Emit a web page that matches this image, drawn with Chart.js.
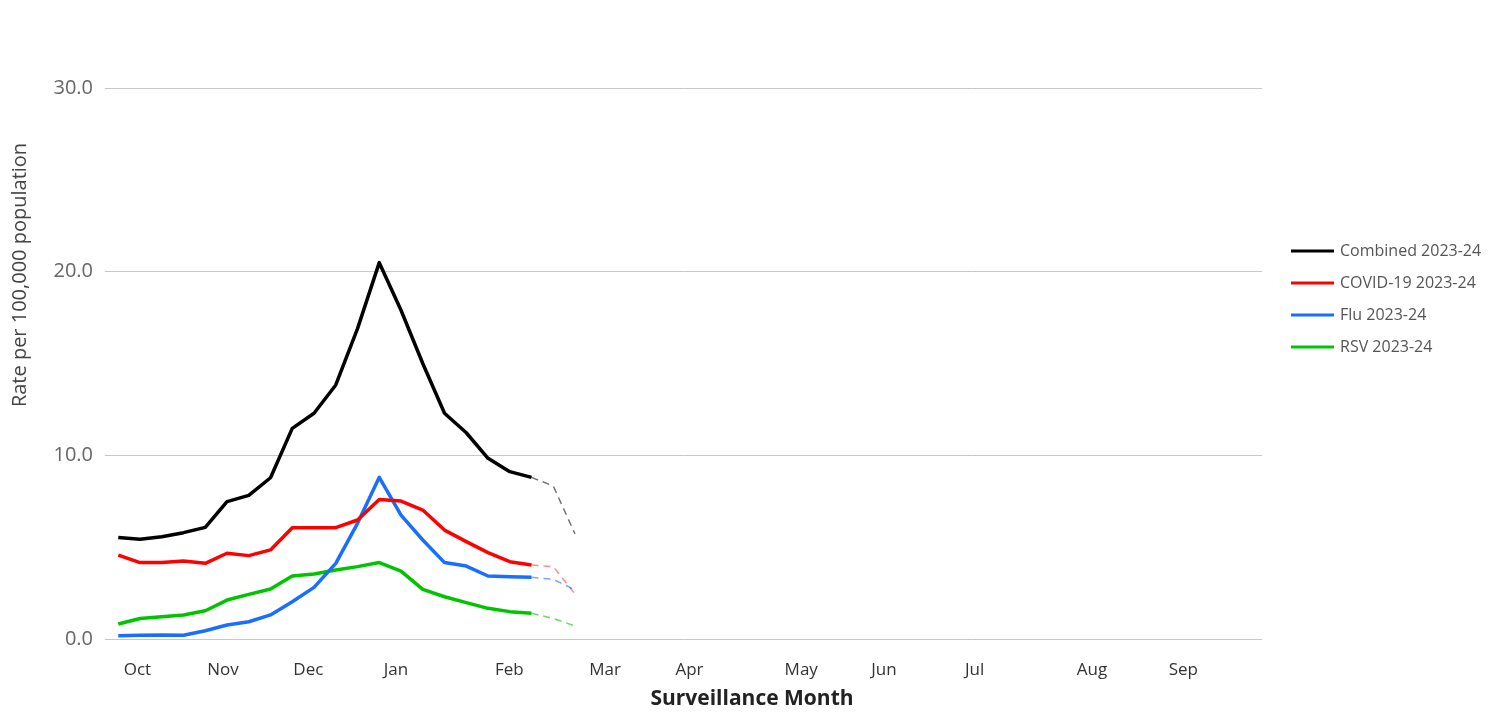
<!DOCTYPE html>
<html>
<head>
<meta charset="utf-8">
<script src="https://cdn.jsdelivr.net/npm/chart.js@4.4.1/dist/chart.umd.min.js"></script>
<style>
  html, body { margin: 0; padding: 0; background: #fff; }
  #wrap { width: 1499px; height: 713px; position: relative; }
</style>
</head>
<body>
<div id="wrap"><canvas id="chart"></canvas></div>
<script>
// Month labels and the (week) position where each one sits on the axis
const monthLabels = ['Oct', 'Nov', 'Dec', 'Jan', 'Feb', 'Mar', 'Apr', 'May', 'Jun', 'Jul', 'Aug', 'Sep'];
const monthTickWeeks = [0.88, 4.81, 8.74, 12.77, 17.98, 22.38, 26.26, 31.4, 35.2, 39.37, 44.77, 48.97];

// Weekly rates per 100,000 (reported weeks)
const combined = [5.52, 5.43, 5.57, 5.79, 6.08, 7.48, 7.82, 8.78, 11.47, 12.29, 13.83, 16.9, 20.49, 17.9, 15.0, 12.29, 11.23, 9.84, 9.11, 8.80];
const covid    = [4.57, 4.16, 4.16, 4.25, 4.12, 4.67, 4.54, 4.85, 6.06, 6.06, 6.06, 6.48, 7.60, 7.51, 7.02, 5.93, 5.30, 4.70, 4.21, 4.03];
const flu      = [0.18, 0.20, 0.22, 0.20, 0.45, 0.76, 0.94, 1.31, 2.03, 2.81, 4.12, 6.30, 8.80, 6.75, 5.39, 4.16, 3.97, 3.43, 3.39, 3.36];
const rsv      = [0.82, 1.12, 1.21, 1.31, 1.54, 2.12, 2.43, 2.72, 3.43, 3.54, 3.76, 3.94, 4.16, 3.70, 2.70, 2.30, 1.98, 1.67, 1.49, 1.40];

// Preliminary (dashed) weeks, starting at the last reported week
const prelimStart = 19;
const combinedPrelim = [8.80, 8.33, 5.72];
const covidPrelim    = [4.03, 3.94, 2.45];
const fluPrelim      = [3.36, 3.25, 2.67];
const rsvPrelim      = [1.40, 1.12, 0.71];

const seriesNames = ['Combined 2023-24', 'COVID-19 2023-24', 'Flu 2023-24', 'RSV 2023-24'];
const seriesColors = ['#000000', '#ff0000', '#1a6eff', '#00c400'];
const prelimColors = ['rgba(0,0,0,0.55)', 'rgba(255,0,0,0.45)', 'rgba(26,110,255,0.6)', 'rgba(0,196,0,0.6)'];

const yTitle = 'Rate per 100,000 population';
const xTitle = 'Surveillance Month';

const toPoints = (values, start = 0) => values.map((v, i) => ({ x: start + i, y: v }));

const solidSets = [combined, covid, flu, rsv].map((values, i) => ({
    label: seriesNames[i],
    data: toPoints(values),
    borderColor: seriesColors[i],
    backgroundColor: seriesColors[i],
    borderWidth: 3.5,
    borderJoinStyle: 'round',
    pointRadius: 0,
    tension: 0,
}));

const dashedSets = [combinedPrelim, covidPrelim, fluPrelim, rsvPrelim].map((values, i) => ({
    label: seriesNames[i] + ' (preliminary)',
    data: toPoints(values, prelimStart),
    borderColor: prelimColors[i],
    borderWidth: 1.5,
    borderDash: [7, 5],
    pointRadius: 0,
    tension: 0,
}));

// axis titles and the legend on the right
const sideLabels = {
    id: 'sideLabels',
    afterDraw: (chart) => {
        const ctx = chart.ctx;
        ctx.save();
        ctx.translate(20, 275);
        ctx.rotate(-Math.PI / 2);
        ctx.font = "20px 'Open Sans'";
        ctx.fillStyle = '#444';
        ctx.textAlign = 'center';
        ctx.textBaseline = 'middle';
        ctx.fillText(yTitle, 0, 0);
        ctx.restore();

        ctx.save();
        ctx.font = "bold 21px 'Open Sans'";
        ctx.fillStyle = '#222';
        ctx.textAlign = 'center';
        ctx.textBaseline = 'middle';
        ctx.fillText(xTitle, 752, 699);
        ctx.restore();

        ctx.save();
        ctx.font = "16px 'Open Sans'";
        ctx.textBaseline = 'middle';
        ctx.textAlign = 'left';
        seriesNames.forEach((name, i) => {
            const y = 251 + i * 32;
            ctx.strokeStyle = seriesColors[i];
            ctx.lineWidth = 3;
            ctx.beginPath();
            ctx.moveTo(1291, y);
            ctx.lineTo(1334, y);
            ctx.stroke();
            ctx.fillStyle = '#555';
            ctx.fillText(name, 1340, y);
        });
        ctx.restore();
    }
};

Chart.defaults.font.family = "'Open Sans', sans-serif";

new Chart(document.getElementById('chart'), {
    type: 'line',
    data: { datasets: [...solidSets, ...dashedSets] },
    options: {
        responsive: true,
        maintainAspectRatio: false,
        animation: false,
        layout: { padding: { top: 88, right: 237, bottom: 34, left: 0 } },
        plugins: {
            legend: { display: false },
            tooltip: { enabled: false }
        },
        scales: {
            x: {
                type: 'linear',
                min: -0.61,
                max: 52.585,
                afterFit: (scale) => { scale.height = 40; },
                grid: { display: false, drawTicks: false },
                border: { display: false },
                afterBuildTicks: (scale) => {
                    scale.ticks = monthTickWeeks.map(v => ({ value: v }));
                },
                ticks: {
                    autoSkip: false,
                    maxRotation: 0,
                    padding: 21,
                    color: '#333',
                    font: { size: 17 },
                    callback: (value, index) => monthLabels[index]
                }
            },
            y: {
                min: 0,
                max: 30,
                afterFit: (scale) => { scale.width = 105; },
                grid: { color: '#c8c8c8', drawTicks: false },
                border: { display: false },
                ticks: {
                    stepSize: 10,
                    padding: 12,
                    color: '#666',
                    font: { size: 20 },
                    callback: (value) => value.toFixed(1)
                }
            }
        }
    },
    plugins: [sideLabels]
});
</script>
</body>
</html>
